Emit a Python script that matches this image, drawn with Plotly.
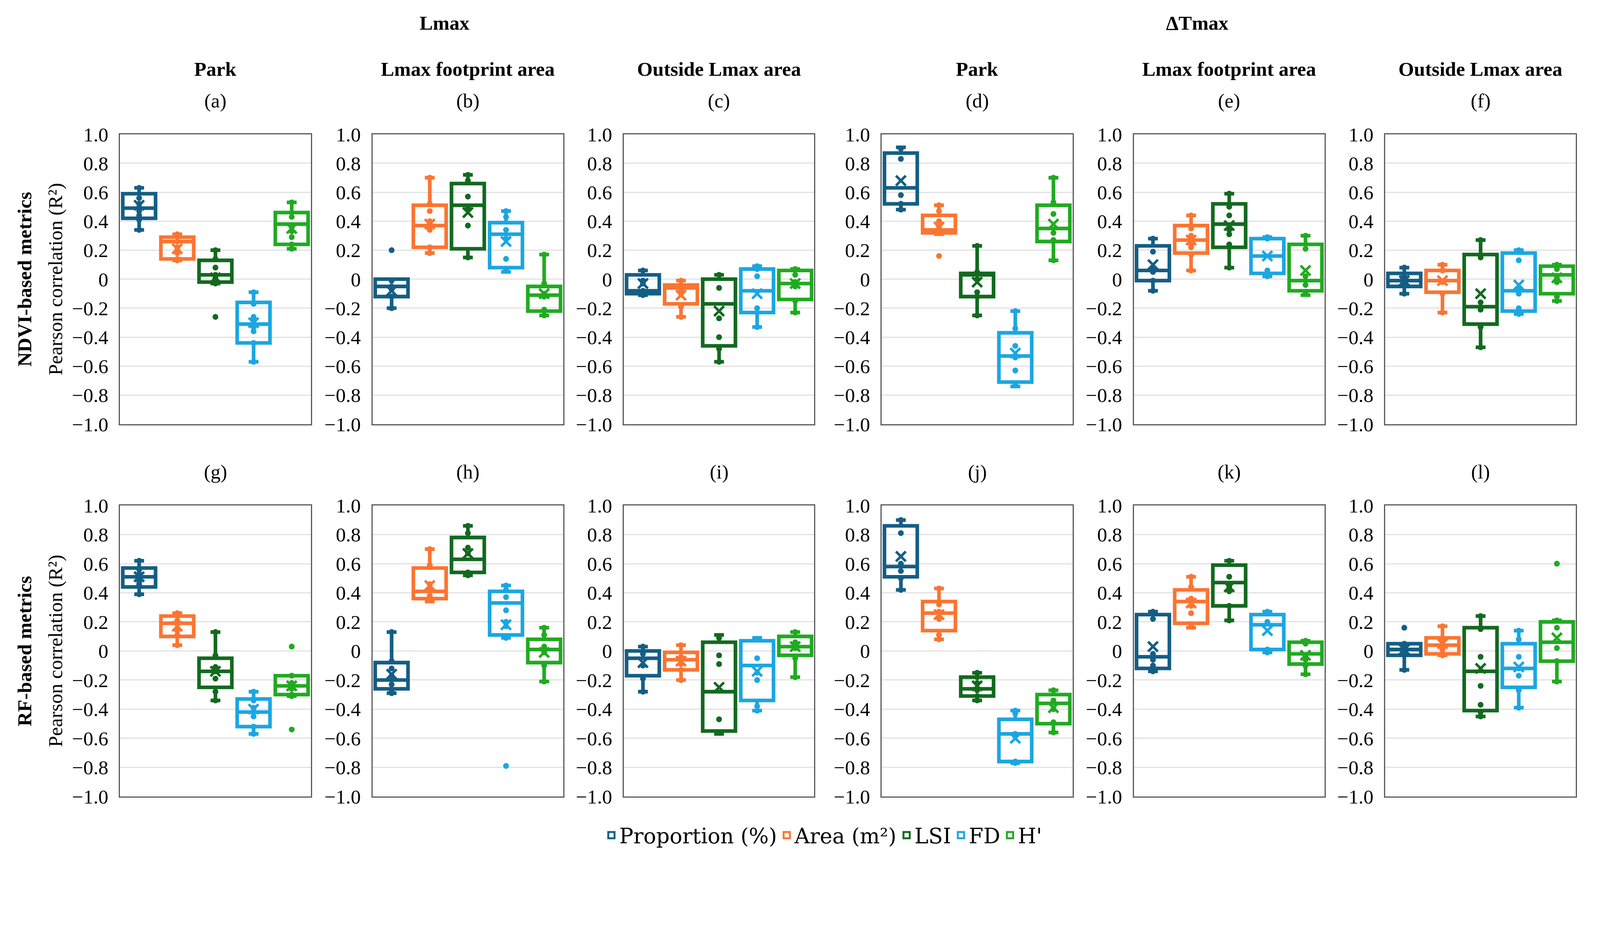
import plotly.graph_objects as go

METRICS = ["Proportion (%)", "Area (m²)", "LSI", "FD", "H'"]
COLORS = ["#145e85", "#fa7532", "#13691f", "#1ba6e2", "#21aa21"]

GROUP_TITLES = ["Lmax", "ΔTmax"]
COLUMN_TITLES = ["Park", "Lmax footprint area", "Outside Lmax area",
                 "Park", "Lmax footprint area", "Outside Lmax area"]
PANEL_LABELS = ["(a)", "(b)", "(c)", "(d)", "(e)", "(f)",
                "(g)", "(h)", "(i)", "(j)", "(k)", "(l)"]
ROW_TITLES = ["NDVI-based metrics", "RF-based metrics"]
Y_TITLE = "Pearson correlation (R²)"

TICK_VALS = [-1.0, -0.8, -0.6, -0.4, -0.2, 0.0, 0.2, 0.4, 0.6, 0.8, 1.0]
TICK_TEXT = ["−1.0", "−0.8", "−0.6", "−0.4", "−0.2", "0",
             "0.2", "0.4", "0.6", "0.8", "1.0"]

# one row per panel (a..l), one value per metric (Proportion, Area, LSI, FD, H')
UPPER = [
    [0.63, 0.31, 0.20, -0.09, 0.53],
    [0.00, 0.70, 0.72, 0.47, 0.17],
    [0.06, -0.01, 0.03, 0.09, 0.07],
    [0.91, 0.51, 0.23, -0.22, 0.70],
    [0.28, 0.44, 0.59, 0.29, 0.30],
    [0.08, 0.10, 0.27, 0.20, 0.10],
    [0.62, 0.26, 0.13, -0.28, -0.17],
    [0.13, 0.70, 0.86, 0.45, 0.16],
    [0.03, 0.04, 0.11, 0.09, 0.13],
    [0.90, 0.43, -0.15, -0.41, -0.27],
    [0.27, 0.51, 0.62, 0.27, 0.07],
    [0.05, 0.17, 0.24, 0.14, 0.21],
]
Q3 = [
    [0.59, 0.29, 0.13, -0.16, 0.46],
    [0.00, 0.51, 0.66, 0.39, -0.05],
    [0.03, -0.04, 0.00, 0.07, 0.06],
    [0.87, 0.44, 0.04, -0.37, 0.51],
    [0.23, 0.37, 0.52, 0.28, 0.24],
    [0.04, 0.06, 0.17, 0.18, 0.09],
    [0.57, 0.24, -0.05, -0.33, -0.17],
    [-0.08, 0.57, 0.78, 0.41, 0.08],
    [0.00, -0.01, 0.06, 0.07, 0.10],
    [0.86, 0.34, -0.18, -0.47, -0.30],
    [0.25, 0.42, 0.59, 0.25, 0.06],
    [0.05, 0.09, 0.16, 0.05, 0.20],
]
MEDIAN = [
    [0.49, 0.26, 0.03, -0.31, 0.38],
    [-0.05, 0.37, 0.51, 0.31, -0.11],
    [-0.08, -0.06, -0.17, -0.08, -0.03],
    [0.63, 0.34, 0.03, -0.53, 0.35],
    [0.06, 0.27, 0.38, 0.16, -0.01],
    [-0.01, -0.01, -0.19, -0.08, 0.03],
    [0.51, 0.19, -0.14, -0.42, -0.24],
    [-0.20, 0.41, 0.63, 0.33, 0.01],
    [-0.05, -0.06, -0.28, -0.10, 0.03],
    [0.58, 0.26, -0.26, -0.57, -0.36],
    [-0.04, 0.34, 0.47, 0.18, -0.02],
    [0.01, 0.04, -0.14, -0.12, 0.06],
]
Q1 = [
    [0.42, 0.14, -0.02, -0.44, 0.24],
    [-0.12, 0.22, 0.21, 0.08, -0.22],
    [-0.10, -0.17, -0.46, -0.23, -0.14],
    [0.52, 0.32, -0.12, -0.71, 0.26],
    [-0.01, 0.18, 0.22, 0.04, -0.08],
    [-0.05, -0.09, -0.31, -0.22, -0.10],
    [0.44, 0.10, -0.25, -0.52, -0.30],
    [-0.26, 0.36, 0.54, 0.11, -0.08],
    [-0.17, -0.13, -0.55, -0.34, -0.03],
    [0.51, 0.14, -0.31, -0.76, -0.50],
    [-0.12, 0.19, 0.31, 0.01, -0.09],
    [-0.03, -0.02, -0.41, -0.25, -0.07],
]
LOWER = [
    [0.34, 0.13, -0.03, -0.57, 0.21],
    [-0.20, 0.18, 0.15, 0.05, -0.25],
    [-0.11, -0.26, -0.57, -0.33, -0.23],
    [0.48, 0.31, -0.25, -0.74, 0.13],
    [-0.08, 0.06, 0.08, 0.02, -0.11],
    [-0.10, -0.23, -0.47, -0.24, -0.15],
    [0.39, 0.04, -0.34, -0.57, -0.31],
    [-0.29, 0.34, 0.52, 0.09, -0.21],
    [-0.28, -0.20, -0.57, -0.41, -0.18],
    [0.42, 0.08, -0.34, -0.77, -0.56],
    [-0.14, 0.16, 0.21, -0.01, -0.16],
    [-0.13, -0.03, -0.45, -0.39, -0.21],
]
MEAN = [
    [0.51, 0.21, 0.01, -0.30, 0.35],
    [-0.08, 0.38, 0.46, 0.26, -0.10],
    [-0.03, -0.11, -0.22, -0.10, -0.03],
    [0.68, 0.36, -0.02, -0.51, 0.38],
    [0.10, 0.27, 0.37, 0.16, 0.06],
    [-0.01, -0.01, -0.10, -0.04, 0.01],
    [0.51, 0.17, -0.14, -0.40, -0.24],
    [-0.16, 0.45, 0.67, 0.18, -0.01],
    [-0.08, -0.07, -0.25, -0.14, 0.03],
    [0.65, 0.25, -0.24, -0.60, -0.39],
    [0.03, 0.33, 0.44, 0.14, -0.03],
    [0.01, 0.05, -0.12, -0.11, 0.09],
]
POINTS = [
    [[0.63, 0.56, 0.52, 0.49, 0.47, 0.44, 0.41, 0.34],
     [0.31, 0.26, 0.22, 0.20, 0.18, 0.14, 0.13],
     [0.20, 0.14, 0.08, 0.03, 0.01, -0.01, -0.03, -0.26],
     [-0.09, -0.17, -0.26, -0.28, -0.33, -0.36, -0.44, -0.57],
     [0.53, 0.43, 0.36, 0.33, 0.29, 0.24, 0.21]],
    [[0.20, -0.01, -0.05, -0.07, -0.12, -0.20],
     [0.70, 0.52, 0.47, 0.40, 0.38, 0.34, 0.22, 0.18],
     [0.72, 0.68, 0.57, 0.49, 0.37, 0.15],
     [0.47, 0.43, 0.34, 0.28, 0.14, 0.06],
     [0.17, -0.03, -0.10, -0.12, -0.21, -0.25]],
    [[0.06, -0.01, -0.03, -0.08, -0.11],
     [-0.01, -0.04, -0.07, -0.10, -0.19, -0.26],
     [0.03, -0.06, -0.27, -0.40, -0.48, -0.57],
     [0.09, 0.07, 0.02, -0.20, -0.33],
     [0.07, 0.03, -0.02, -0.05, -0.15, -0.23]],
    [[0.90, 0.83, 0.58, 0.52, 0.48],
     [0.51, 0.47, 0.40, 0.36, 0.34, 0.32, 0.16],
     [0.23, 0.05, 0.00, -0.09, -0.12, -0.25],
     [-0.22, -0.34, -0.46, -0.54, -0.63, -0.73],
     [0.70, 0.53, 0.45, 0.32, 0.27, 0.13]],
    [[0.28, 0.19, 0.08, 0.05, -0.01, -0.08],
     [0.44, 0.35, 0.30, 0.26, 0.24, 0.22, 0.17, 0.06],
     [0.59, 0.50, 0.44, 0.34, 0.31, 0.24, 0.08],
     [0.29, 0.28, 0.06, 0.02],
     [0.30, 0.21, 0.02, -0.04, -0.10]],
    [[0.08, 0.02, -0.02, -0.03, -0.10],
     [0.10, 0.06, -0.02, -0.10, -0.23],
     [0.27, 0.15, -0.16, -0.21, -0.33, -0.47],
     [0.20, 0.13, -0.06, -0.10, -0.20, -0.24],
     [0.10, 0.07, 0.01, -0.02, -0.12, -0.15]],
    [[0.62, 0.56, 0.53, 0.50, 0.48, 0.46, 0.39],
     [0.26, 0.21, 0.14, 0.11, 0.04],
     [0.13, -0.03, -0.11, -0.14, -0.19, -0.28, -0.34],
     [-0.28, -0.34, -0.39, -0.42, -0.45, -0.52, -0.57],
     [0.03, -0.17, -0.22, -0.26, -0.30, -0.31, -0.54]],
    [[0.13, -0.07, -0.12, -0.17, -0.23, -0.27, -0.29],
     [0.70, 0.59, 0.46, 0.42, 0.38, 0.35],
     [0.86, 0.81, 0.71, 0.67, 0.54, 0.52],
     [0.45, 0.42, 0.37, 0.28, 0.20, 0.17, 0.09, -0.79],
     [0.16, 0.11, 0.03, -0.01, -0.10, -0.21]],
    [[0.03, -0.02, -0.10, -0.19, -0.28],
     [0.04, -0.04, -0.09, -0.13, -0.20],
     [0.09, -0.03, -0.09, -0.47, -0.56],
     [0.08, -0.05, -0.15, -0.20, -0.38, -0.41],
     [0.13, 0.06, 0.02, -0.05, -0.18]],
    [[0.90, 0.81, 0.60, 0.55, 0.50, 0.42],
     [0.43, 0.32, 0.27, 0.22, 0.11, 0.08],
     [-0.15, -0.18, -0.22, -0.27, -0.31, -0.34],
     [-0.41, -0.43, -0.57, -0.76, -0.77],
     [-0.27, -0.34, -0.40, -0.49, -0.56]],
    [[0.27, 0.22, -0.02, -0.06, -0.10, -0.14],
     [0.51, 0.44, 0.36, 0.31, 0.26, 0.17],
     [0.62, 0.51, 0.44, 0.41, 0.31, 0.21],
     [0.27, 0.20, 0.01, -0.01],
     [0.07, 0.05, -0.03, -0.06, -0.10, -0.16]],
    [[0.16, 0.05, 0.02, 0.00, -0.02, -0.13],
     [0.17, 0.08, 0.05, 0.01, -0.02, -0.03],
     [0.24, 0.15, -0.04, -0.24, -0.37, -0.42, -0.45],
     [0.14, 0.08, -0.04, -0.12, -0.17, -0.27, -0.39],
     [0.60, 0.21, 0.16, 0.02, -0.07, -0.21]],
]

# the page seems to be shown at a slightly larger zoom than 1:1, so the whole
# layout is designed in 4379x2368 "reference pixels" and shrunk by S
REF_W, REF_H = 4379, 2368
S = 0.93
W, H = round(REF_W * S), round(REF_H * S)
FONT = "Liberation Serif"
FS = 55 * S

# panel frames in reference pixels (left, right) per column and (top, bottom) per row
col_px = [(322, 847), (1017, 1542), (1709, 2233), (2419, 2944), (3113, 3638), (3805, 4330)]
row_px = [(361, 1159), (1383, 2184)]

fig = go.Figure()

# boxes first so dots and means are drawn on top
for p in range(12):
    ax = "" if p == 0 else str(p + 1)
    for m in range(5):
        fig.add_trace(go.Box(
            x=[m], q1=[Q1[p][m]], median=[MEDIAN[p][m]], q3=[Q3[p][m]],
            lowerfence=[LOWER[p][m]], upperfence=[UPPER[p][m]],
            name=METRICS[m], legendgroup=METRICS[m], showlegend=False,
            line=dict(color=COLORS[m], width=10 * S), fillcolor="rgba(255,255,255,0)",
            width=0.86, whiskerwidth=0.3, boxpoints=False,
            xaxis="x" + ax, yaxis="y" + ax, hoverinfo="skip"))

for p in range(12):
    ax = "" if p == 0 else str(p + 1)
    for m in range(5):
        pts = POINTS[p][m]
        fig.add_trace(go.Scatter(
            x=[m] * len(pts), y=pts, mode="markers", legendgroup=METRICS[m],
            showlegend=False, marker=dict(color=COLORS[m], size=16 * S),
            xaxis="x" + ax, yaxis="y" + ax, hoverinfo="y"))
        fig.add_trace(go.Scatter(
            x=[m], y=[MEAN[p][m]], mode="markers", legendgroup=METRICS[m],
            showlegend=False,
            marker=dict(symbol="x-thin", size=27 * S, color=COLORS[m],
                        line=dict(color=COLORS[m], width=7 * S)),
            xaxis="x" + ax, yaxis="y" + ax, hoverinfo="y"))

# legend entries: hollow squares like the reference key
for m in range(5):
    fig.add_trace(go.Scatter(
        x=[None], y=[None], mode="markers", name=METRICS[m], legendgroup=METRICS[m],
        showlegend=True,
        marker=dict(symbol="square", size=16, color="white",
                    line=dict(color=COLORS[m], width=5))))

layout = dict(
    width=W, height=H, template="none",
    margin=dict(l=0, r=0, t=0, b=0),
    paper_bgcolor="white", plot_bgcolor="white",
    font=dict(family=FONT, size=FS, color="black"),
    showlegend=True,
    legend=dict(orientation="h", x=0.516, xanchor="center", y=1 - 2291 / REF_H, yanchor="middle",
                font=dict(family="DejaVu Serif", size=58 * S, color="black"),
                itemwidth=30, tracegroupgap=0, bgcolor="rgba(0,0,0,0)"),
)

annotations = []
for p in range(12):
    r, c = divmod(p, 6)
    ax = "" if p == 0 else str(p + 1)
    x0, x1 = col_px[c]
    y0, y1 = row_px[r]
    layout["xaxis" + ax] = dict(
        domain=[x0 / REF_W, x1 / REF_W], anchor="y" + ax, range=[-0.5, 4.5],
        showticklabels=False, showgrid=False, zeroline=False, ticks="",
        showline=True, mirror=True, linecolor="#595959", linewidth=3 * S, fixedrange=True)
    layout["yaxis" + ax] = dict(
        domain=[1 - y1 / REF_H, 1 - y0 / REF_H], anchor="x" + ax, range=[-1, 1],
        tickvals=TICK_VALS, ticktext=TICK_TEXT, ticks="", ticklabelstandoff=round(18 * S),
        tickfont=dict(family=FONT, size=FS, color="black"),
        showgrid=True, gridcolor="#e2e2e2", gridwidth=3 * S, zeroline=False,
        showline=True, mirror=True, linecolor="#595959", linewidth=3 * S, fixedrange=True)
    annotations.append(dict(
        text=PANEL_LABELS[p], xref="paper", yref="paper",
        x=(x0 + x1) / 2 / REF_W, y=1 - (y0 - 93) / REF_H, xanchor="center", yanchor="middle",
        showarrow=False, font=dict(family=FONT, size=FS, color="black")))

for c in range(6):
    x0, x1 = col_px[c]
    annotations.append(dict(
        text="<b>%s</b>" % COLUMN_TITLES[c], xref="paper", yref="paper",
        x=(x0 + x1) / 2 / REF_W, y=1 - 181 / REF_H, xanchor="center", yanchor="middle",
        showarrow=False, font=dict(family=FONT, size=FS, color="black")))

for g, gx in zip(GROUP_TITLES, [1215, 3287]):
    annotations.append(dict(
        text="<b>%s</b>" % g, xref="paper", yref="paper",
        x=gx / REF_W, y=1 - 54 / REF_H, xanchor="center", yanchor="middle",
        showarrow=False, font=dict(family=FONT, size=FS, color="black")))

for r in range(2):
    y0, y1 = row_px[r]
    yc = 1 - (y0 + y1) / 2 / REF_H
    annotations.append(dict(
        text="<b>%s</b>" % ROW_TITLES[r], xref="paper", yref="paper",
        x=59 / REF_W, y=yc, xanchor="center", yanchor="middle", textangle=-90,
        showarrow=False, font=dict(family=FONT, size=FS, color="black")))
    annotations.append(dict(
        text=Y_TITLE, xref="paper", yref="paper",
        x=144 / REF_W, y=yc, xanchor="center", yanchor="middle", textangle=-90,
        showarrow=False, font=dict(family=FONT, size=FS, color="black")))

layout["annotations"] = annotations
fig.update_layout(layout)

fig.write_html("out.html")
